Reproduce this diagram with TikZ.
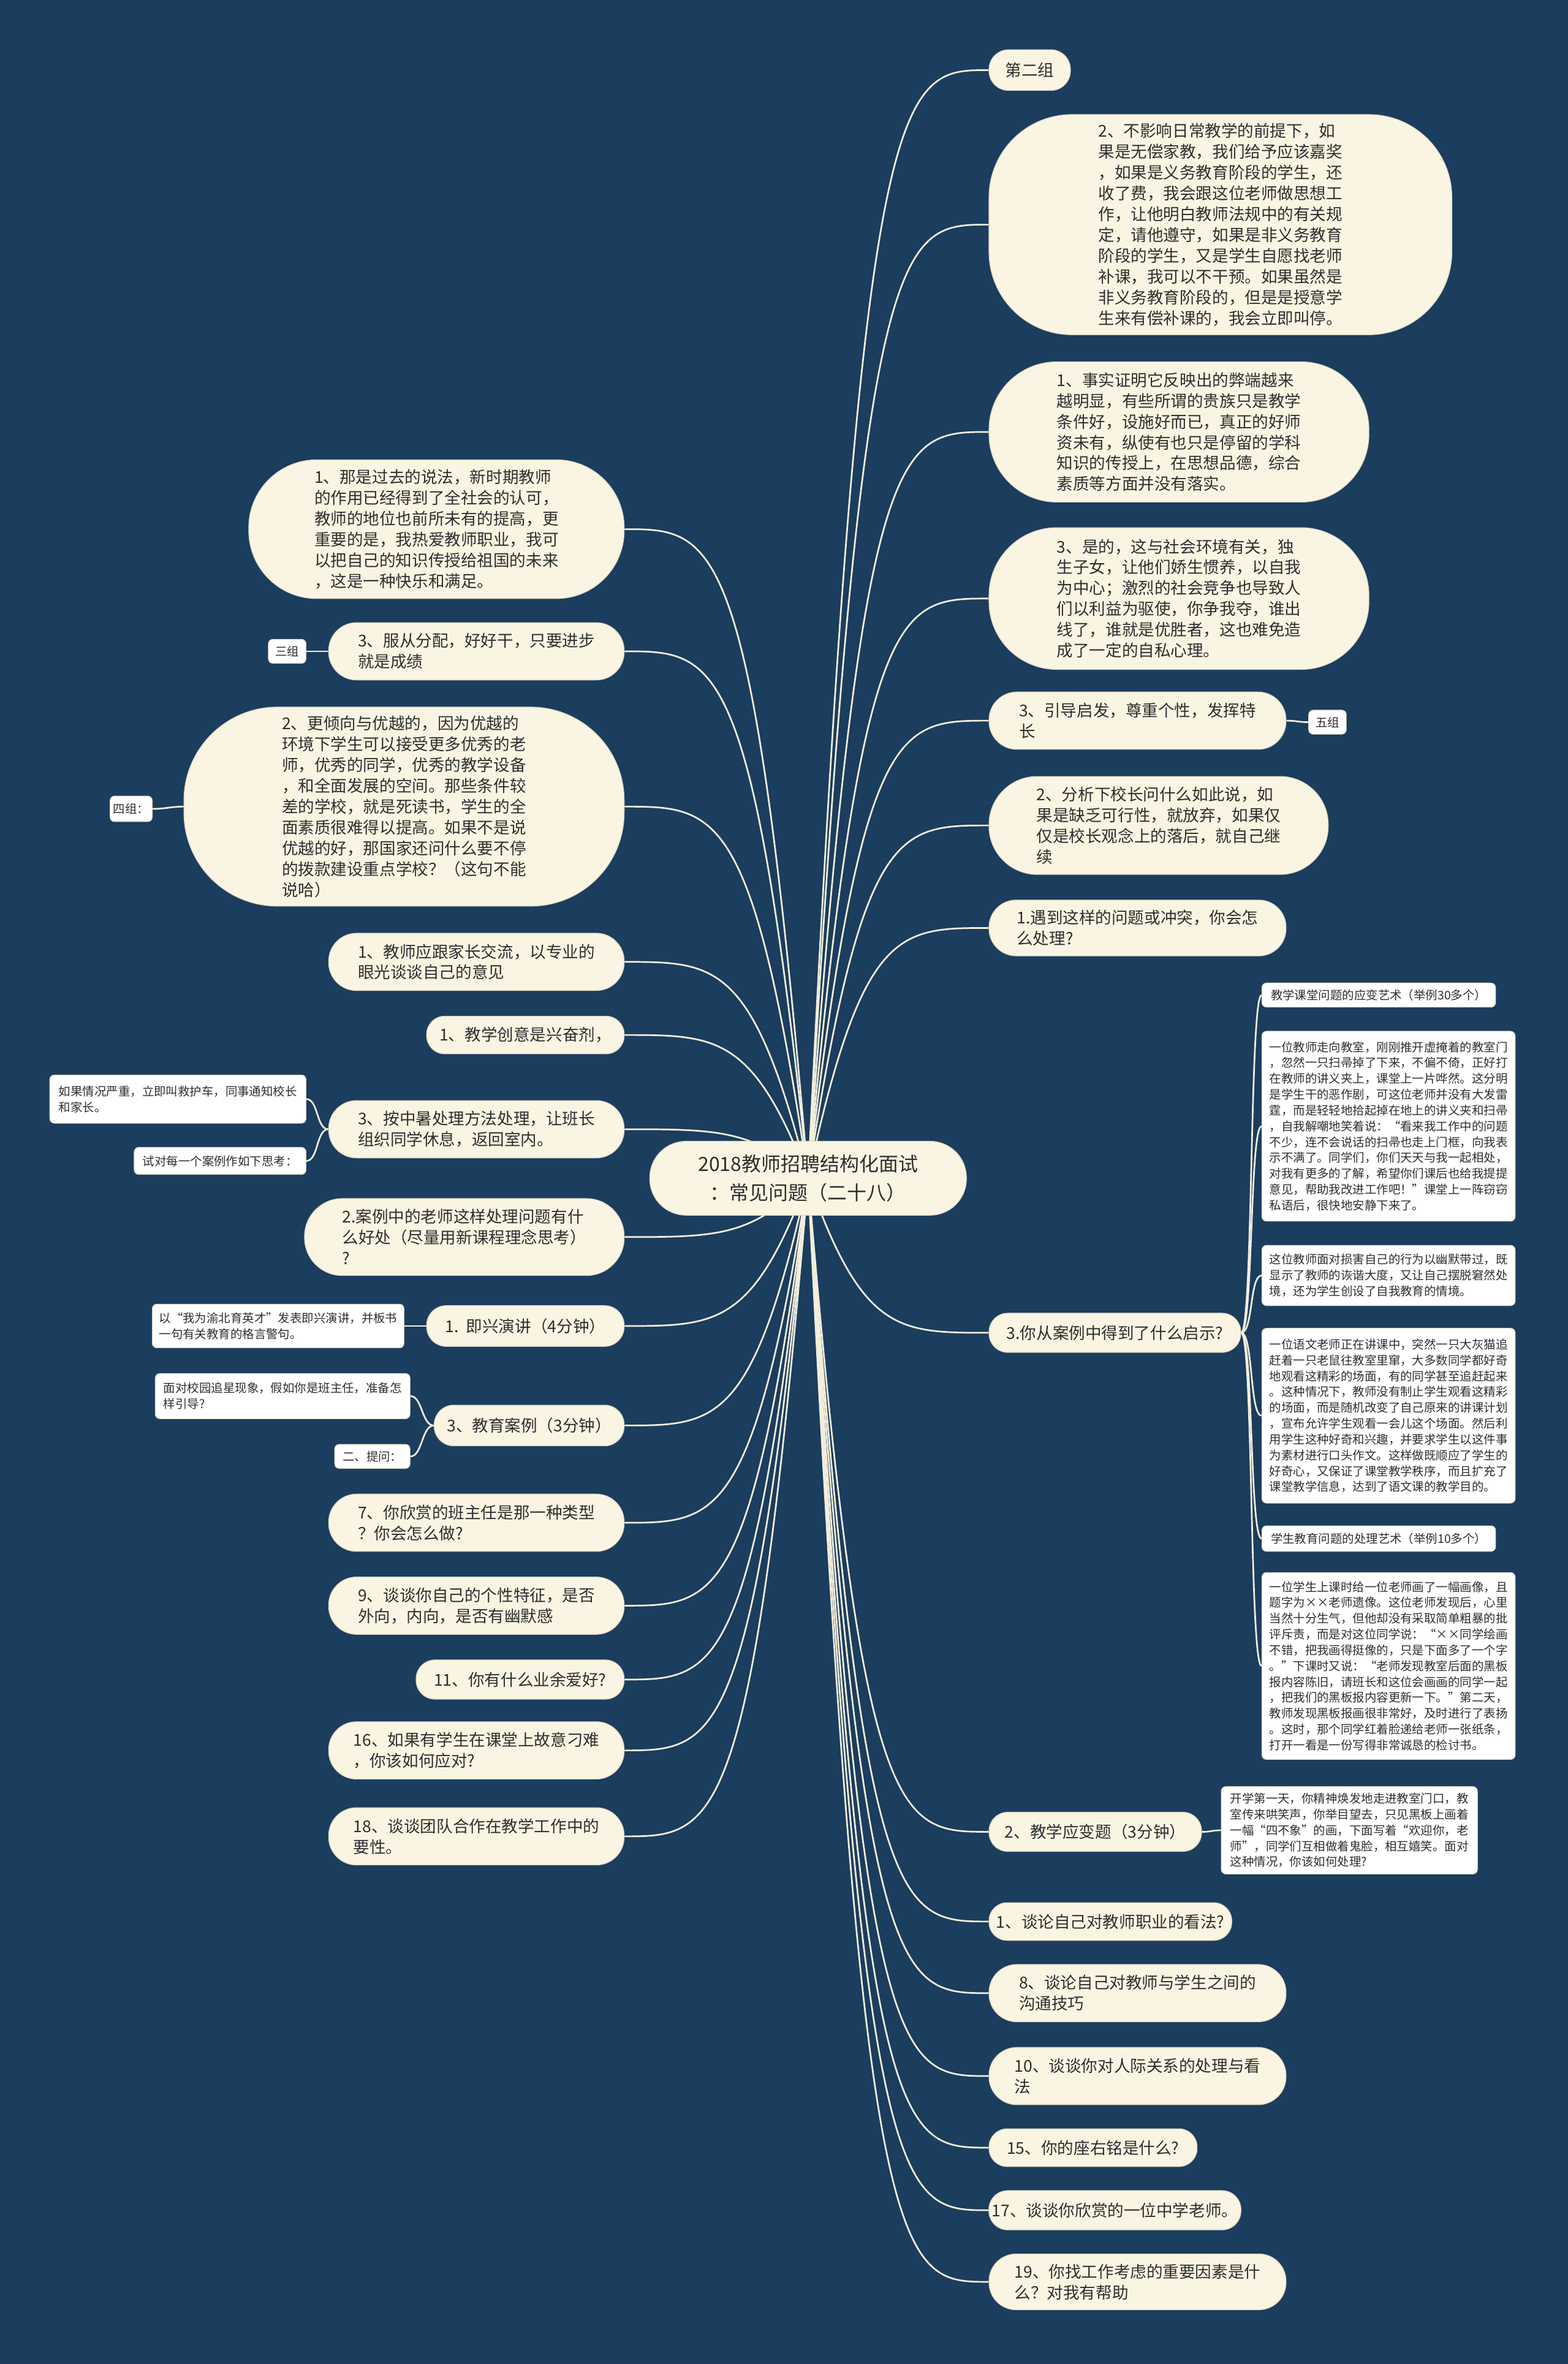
\documentclass[tikz,border=0pt]{standalone}
\usepackage{fontspec}
\setmainfont{Noto Sans CJK SC}
\usepackage{tikz}
\usetikzlibrary{calc,backgrounds}
\definecolor{mapnavy}{HTML}{1B3D5E}
\definecolor{mapcream}{HTML}{FAF5E2}
\definecolor{mapedge}{HTML}{DDD7C0}
\definecolor{mapink}{HTML}{2E2E2E}
\definecolor{mapline}{HTML}{F3EEDC}
\newcommand{\topicfont}{\fontsize{10.8}{13.8}\selectfont}
\newcommand{\notefont}{\fontsize{7.9}{10.5}\selectfont}
\newcommand{\rootfont}{\fontsize{13}{19}\selectfont}

\begin{document}
\begin{tikzpicture}[x=1pt,y=-1pt,
    box/.style n args={3}{minimum width=#1pt,minimum height=#2pt,rounded corners=#3pt},
    notebox/.style 2 args={minimum width=#1pt,minimum height=#2pt},
    topic/.style={fill=mapcream,draw=mapedge,line width=0.5pt,text=mapink,font=\topicfont,align=left,inner sep=2pt},
    note/.style={fill=white,draw=mapedge,line width=0.4pt,text=mapink,font=\notefont,align=left,inner sep=2pt,rounded corners=3pt},
    link/.style={draw=mapline,line width=1.1pt}]
    \begin{scope}[on background layer]
        \fill[mapnavy] (0,0) rectangle (1040,1568);
    \end{scope}
    \useasboundingbox (0,0) rectangle (1040,1568);

    % centre
    \node[topic,box={210}{49}{24},font=\rootfont,align=center] (root) at (536,781.5) {2018教师招聘结构化面试\\：常见问题（二十八）};

    % right branches
    \node[topic,box={54}{27}{13}] (grouptwo) at (683,46.5) {第二组};
    \node[topic,box={307}{146}{55}] (tutor) at (809.5,149) {2、不影响日常教学的前提下，如\\果是无偿家教，我们给予应该嘉奖\\，如果是义务教育阶段的学生，还\\收了费，我会跟这位老师做思想工\\作，让他明白教师法规中的有关规\\定，请他遵守，如果是非义务教育\\阶段的学生，又是学生自愿找老师\\补课，我可以不干预。如果虽然是\\非义务教育阶段的，但是是授意学\\生来有偿补课的，我会立即叫停。};
    \node[topic,box={252}{93}{45}] (elite) at (782,286.5) {1、事实证明它反映出的弊端越来\\越明显，有些所谓的贵族只是教学\\条件好，设施好而已，真正的好师\\资未有，纵使有也只是停留的学科\\知识的传授上，在思想品德，综合\\素质等方面并没有落实。};
    \node[topic,box={252}{94}{45}] (selfish) at (782,397) {3、是的，这与社会环境有关，独\\生子女，让他们娇生惯养，以自我\\为中心；激烈的社会竞争也导致人\\们以利益为驱使，你争我夺，谁出\\线了，谁就是优胜者，这也难免造\\成了一定的自私心理。};
    \node[topic,box={197}{38}{18.5}] (guide) at (754.5,478) {3、引导启发，尊重个性，发挥特\\长};
    \node[note,notebox={25}{16}] (fivegrp) at (880.5,479) {五组};
    \node[topic,box={225}{65}{32}] (principal) at (768.5,547.5) {2、分析下校长问什么如此说，如\\果是缺乏可行性，就放弃，如果仅\\仅是校长观念上的落后，就自己继\\续};
    \node[topic,box={197}{37}{18}] (conflict) at (754.5,615.5) {1.遇到这样的问题或冲突，你会怎\\么处理?};
    \node[topic,box={167}{26}{12.5}] (lesson) at (739.5,884) {3.你从案例中得到了什么启示?};
    \node[note,notebox={155}{16}] (artone) at (914.5,660) {教学课堂问题的应变艺术（举例30多个）};
    \node[note,notebox={168}{126}] (broom) at (921,747) {一位教师走向教室，刚刚推开虚掩着的教室门\\，忽然一只扫帚掉了下来，不偏不倚，正好打\\在教师的讲义夹上，课堂上一片哗然。这分明\\是学生干的恶作剧，可这位老师并没有大发雷\\霆，而是轻轻地拾起掉在地上的讲义夹和扫帚\\，自我解嘲地笑着说：“看来我工作中的问题\\不少，连不会说话的扫帚也走上门框，向我表\\示不满了。同学们，你们天天与我一起相处，\\对我有更多的了解，希望你们课后也给我提提\\意见，帮助我改进工作吧！”课堂上一阵窃窃\\私语后，很快地安静下来了。};
    \node[note,notebox={168}{40}] (humour) at (921,846) {这位教师面对损害自己的行为以幽默带过，既\\显示了教师的诙谐大度，又让自己摆脱窘然处\\境，还为学生创设了自我教育的情境。};
    \node[note,notebox={168}{116}] (greycat) at (921,939) {一位语文老师正在讲课中，突然一只大灰猫追\\赶着一只老鼠往教室里窜，大多数同学都好奇\\地观看这精彩的场面，有的同学甚至追赶起来\\。这种情况下，教师没有制止学生观看这精彩\\的场面，而是随机改变了自己原来的讲课计划\\，宣布允许学生观看一会儿这个场面。然后利\\用学生这种好奇和兴趣，并要求学生以这件事\\为素材进行口头作文。这样做既顺应了学生的\\好奇心，又保证了课堂教学秩序，而且扩充了\\课堂教学信息，达到了语文课的教学目的。};
    \node[note,notebox={155}{17}] (arttwo) at (914.5,1020.5) {学生教育问题的处理艺术（举例10多个）};
    \node[note,notebox={168}{124}] (portrait) at (921,1105) {一位学生上课时给一位老师画了一幅画像，且\\题字为××老师遗像。这位老师发现后，心里\\当然十分生气，但他却没有采取简单粗暴的批\\评斥责，而是对这位同学说：“××同学绘画\\不错，把我画得挺像的，只是下面多了一个字\\。”下课时又说：“老师发现教室后面的黑板\\报内容陈旧，请班长和这位会画画的同学一起\\，把我们的黑板报内容更新一下。”第二天，\\教师发现黑板报画很非常好，及时进行了表扬\\。这时，那个同学红着脸递给老师一张纸条，\\打开一看是一份写得非常诚恳的检讨书。};
    \node[topic,box={141}{26}{12.5}] (adapt) at (726.5,1215) {2、教学应变题（3分钟）};
    \node[note,notebox={170}{58}] (firstday) at (895,1214) {开学第一天，你精神焕发地走进教室门口，教\\室传来哄笑声，你举目望去，只见黑板上画着\\一幅“四不象”的画，下面写着“欢迎你，老\\师”，同学们互相做着鬼脸，相互嬉笑。面对\\这种情况，你该如何处理?};
    \node[topic,box={161}{25}{12}] (career) at (736.5,1274.5) {1、谈论自己对教师职业的看法?};
    \node[topic,box={197}{38}{18.5}] (talk) at (754.5,1322) {8、谈论自己对教师与学生之间的\\沟通技巧};
    \node[topic,box={197}{38}{18.5}] (social) at (754.5,1377) {10、谈谈你对人际关系的处理与看\\法};
    \node[topic,box={138}{25}{12}] (motto) at (725,1424.5) {15、你的座右铭是什么?};
    \node[topic,box={167}{26}{12.5}] (admire) at (739.5,1466) {17、谈谈你欣赏的一位中学老师。};
    \node[topic,box={197}{37}{18}] (factors) at (754.5,1513.5) {19、你找工作考虑的重要因素是什\\么？对我有帮助};

    % left branches
    \node[topic,box={249}{92}{45}] (newera) at (289.5,351) {1、那是过去的说法，新时期教师\\的作用已经得到了全社会的认可，\\教师的地位也前所未有的提高，更\\重要的是，我热爱教师职业，我可\\以把自己的知识传授给祖国的未来\\，这是一种快乐和满足。};
    \node[topic,box={196}{38}{18.5}] (obey) at (316,432) {3、服从分配，好好干，只要进步\\就是成绩};
    \node[note,notebox={25}{16}] (threegrp) at (190.5,432) {三组};
    \node[topic,box={292}{132}{62}] (better) at (268,535) {2、更倾向与优越的，因为优越的\\环境下学生可以接受更多优秀的老\\师，优秀的同学，优秀的教学设备\\，和全面发展的空间。那些条件较\\差的学校，就是死读书，学生的全\\面素质很难得以提高。如果不是说\\优越的好，那国家还问什么要不停\\的拨款建设重点学校？（这句不能\\说哈）};
    \node[note,notebox={28}{17}] (fourgrp) at (87,536.5) {四组：};
    \node[topic,box={196}{38}{18.5}] (parents) at (316,638) {1、教师应跟家长交流，以专业的\\眼光谈谈自己的意见};
    \node[topic,box={131}{25}{12}] (creative) at (348.5,686.5) {1、教学创意是兴奋剂，};
    \node[topic,box={196}{38}{18.5}] (heat) at (316,749) {3、按中暑处理方法处理，让班长\\组织同学休息，返回室内。};
    \node[note,notebox={170}{32}] (serious) at (118,729) {如果情况严重，立即叫救护车，同事通知校长\\和家长。};
    \node[note,notebox={114}{18}] (think) at (146,770) {试对每一个案例作如下思考：};
    \node[topic,box={212}{51}{25}] (benefit) at (308,820.5) {2.案例中的老师这样处理问题有什\\么好处（尽量用新课程理念思考）\\?};
    \node[topic,box={131}{27}{13}] (speech) at (348.5,879.5) {1.\ \ 即兴演讲（4分钟）};
    \node[note,notebox={167}{29}] (speechtask) at (184.5,879.5) {以“我为渝北育英才”发表即兴演讲，并板书\\一句有关教育的格言警句。};
    \node[topic,box={126}{27}{13}] (edcase) at (351,945.5) {3、教育案例（3分钟）};
    \node[note,notebox={169}{30}] (stars) at (187.5,926) {面对校园追星现象，假如你是班主任，准备怎\\样引导?};
    \node[note,notebox={50}{16}] (ask) at (247,966) {二、提问：};
    \node[topic,box={196}{38}{18.5}] (headteacher) at (316,1010) {7、你欣赏的班主任是那一种类型\\？你会怎么做?};
    \node[topic,box={196}{38}{18.5}] (traits) at (316,1065) {9、谈谈你自己的个性特征，是否\\外向，内向，是否有幽默感};
    \node[topic,box={138}{26}{12.5}] (hobby) at (345,1114) {11、你有什么业余爱好?};
    \node[topic,box={196}{38}{18.5}] (tricky) at (316,1161) {16、如果有学生在课堂上故意刁难\\，你该如何应对?};
    \node[topic,box={196}{38}{18.5}] (teamwork) at (316,1218) {18、谈谈团队合作在教学工作中的\\要性。};

    % connectors
    \begin{scope}[on background layer]
        \foreach \kid in {grouptwo,tutor,elite,selfish,guide,principal,conflict,lesson,adapt,career,talk,social,motto,admire,factors}
            \draw[link] let \p1=(root.center), \p2=(\kid.west) in (\p1) .. controls ({0.7*\x1+0.3*\x2},\y2) and ({0.5*\x1+0.5*\x2},\y2) .. (\p2);
        \foreach \kid in {newera,obey,better,parents,creative,heat,benefit,speech,edcase,headteacher,traits,hobby,tricky,teamwork}
            \draw[link] let \p1=(root.center), \p2=(\kid.east) in (\p1) .. controls ({0.7*\x1+0.3*\x2},\y2) and ({0.5*\x1+0.5*\x2},\y2) .. (\p2);
        \foreach \kid in {artone,broom,humour,greycat,arttwo,portrait}
            \draw[link] (lesson.east) .. controls +(8,0) and +(-8,0) .. (\kid.west);
        \draw[link] (guide.east) .. controls +(7,0) and +(-7,0) .. (fivegrp.west);
        \draw[link] (adapt.east) .. controls +(7,0) and +(-7,0) .. (firstday.west);
        \draw[link] (obey.west) .. controls +(-7,0) and +(7,0) .. (threegrp.east);
        \draw[link] (better.west) .. controls +(-9,0) and +(9,0) .. (fourgrp.east);
        \draw[link] (heat.west) .. controls +(-8,0) and +(8,0) .. (serious.east);
        \draw[link] (heat.west) .. controls +(-8,0) and +(8,0) .. (think.east);
        \draw[link] (speech.west) .. controls +(-7,0) and +(7,0) .. (speechtask.east);
        \draw[link] (edcase.west) .. controls +(-8,0) and +(8,0) .. (stars.east);
        \draw[link] (edcase.west) .. controls +(-8,0) and +(8,0) .. (ask.east);
    \end{scope}
\end{tikzpicture}
\end{document}
